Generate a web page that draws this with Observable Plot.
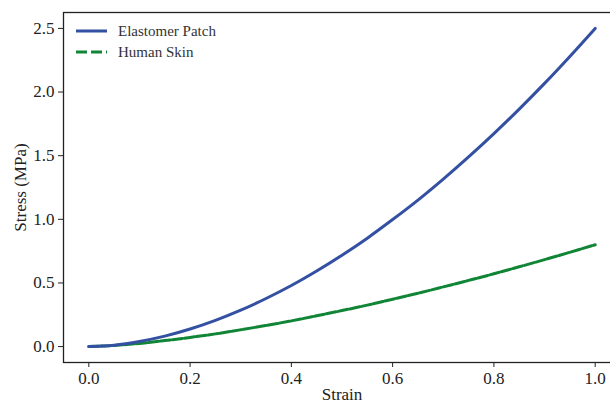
<!DOCTYPE html>
<html>
<head>
<meta charset="utf-8">
<script src="https://cdn.jsdelivr.net/npm/d3@7"></script>
<script src="https://cdn.jsdelivr.net/npm/@observablehq/plot@0.6"></script>
<style>
html, body { margin: 0; padding: 0; background: #fff; overflow: hidden; width: 610px; height: 402px; }
#chart { position: relative; width: 610px; height: 402px; overflow: hidden; }
#chart svg { max-width: none !important; display: block; }
#chart svg, #chart svg text { font-family: "Liberation Serif", "Times New Roman", "DejaVu Serif", serif !important; }
</style>
</head>
<body>
<div id="chart"></div>
<script>
const strain = [0,0.05,0.1,0.15,0.2,0.25,0.3,0.35,0.4,0.45,0.5,0.55,0.6,0.65,0.7,0.75,0.8,0.85,0.9,0.95,1.0];
const elastomer = [0,0.011,0.040,0.082,0.138,0.206,0.286,0.378,0.480,0.594,0.718,0.852,0.998,1.151,1.316,1.490,1.673,1.866,2.068,2.280,2.5];
const skin = [0,0.009,0.025,0.047,0.072,0.100,0.132,0.166,0.202,0.242,0.283,0.326,0.372,0.419,0.469,0.520,0.572,0.627,0.683,0.741,0.8];
const xTicks = [0,0.2,0.4,0.6,0.8,1.0];
const yTicks = [0,0.5,1.0,1.5,2.0,2.5];
const seriesNames = ["Elastomer Patch", "Human Skin"];
const colors = ["#3350a2", "#118536"];

const rowsElastomer = strain.map((s, i) => ({x: s, y: elastomer[i], series: seriesNames[0]}));
const rowsSkin = strain.map((s, i) => ({x: s, y: skin[i], series: seriesNames[1]}));

const fmt = d => d.toFixed(1);

const plot = Plot.plot({
  width: 622,
  height: 402,
  marginLeft: 63,
  marginRight: 2,
  marginTop: 12,
  marginBottom: 40,
  style: {fontFamily: "'Liberation Serif', serif", fontSize: "16px", color: "#222", background: "#fff", maxWidth: "none"},
  x: {domain: [-0.05, 1.05]},
  y: {domain: [-0.125, 2.625]},
  marks: [
    Plot.axisX({ticks: xTicks, tickFormat: fmt, tickSize: 5, tickPadding: 4, fontSize: 17, label: "Strain", labelAnchor: "center", labelArrow: "none", labelOffset: 37}),
    Plot.axisY({ticks: yTicks, tickFormat: fmt, tickSize: 5, tickPadding: 4, fontSize: 17, label: "Stress (MPa)", labelAnchor: "center", labelArrow: "none", labelOffset: 50}),
    Plot.line(rowsSkin, {x: "x", y: "y", stroke: colors[1], strokeWidth: 3, strokeDasharray: "10,2", curve: "catmull-rom"}),
    Plot.line(rowsElastomer, {x: "x", y: "y", stroke: colors[0], strokeWidth: 3, curve: "catmull-rom"}),
    Plot.frame({stroke: "#222", strokeWidth: 1.3})
  ]
});
document.getElementById("chart").appendChild(plot);

// legend
const svg = d3.select(plot);
const lg = svg.append("g").attr("font-size", 15)
  .attr("fill", "#333").attr("text-anchor", "start");
seriesNames.forEach((name, i) => {
  const yy = 31 + i * 21;
  lg.append("line").attr("x1", 76).attr("x2", 107).attr("y1", yy).attr("y2", yy)
    .attr("stroke", colors[i]).attr("stroke-width", 3)
    .attr("stroke-dasharray", i === 1 ? "11,4" : null);
  lg.append("text").attr("x", 118).attr("y", yy).attr("dy", "0.35em").attr("text-anchor", "start").text(name);
});
</script>
</body>
</html>
